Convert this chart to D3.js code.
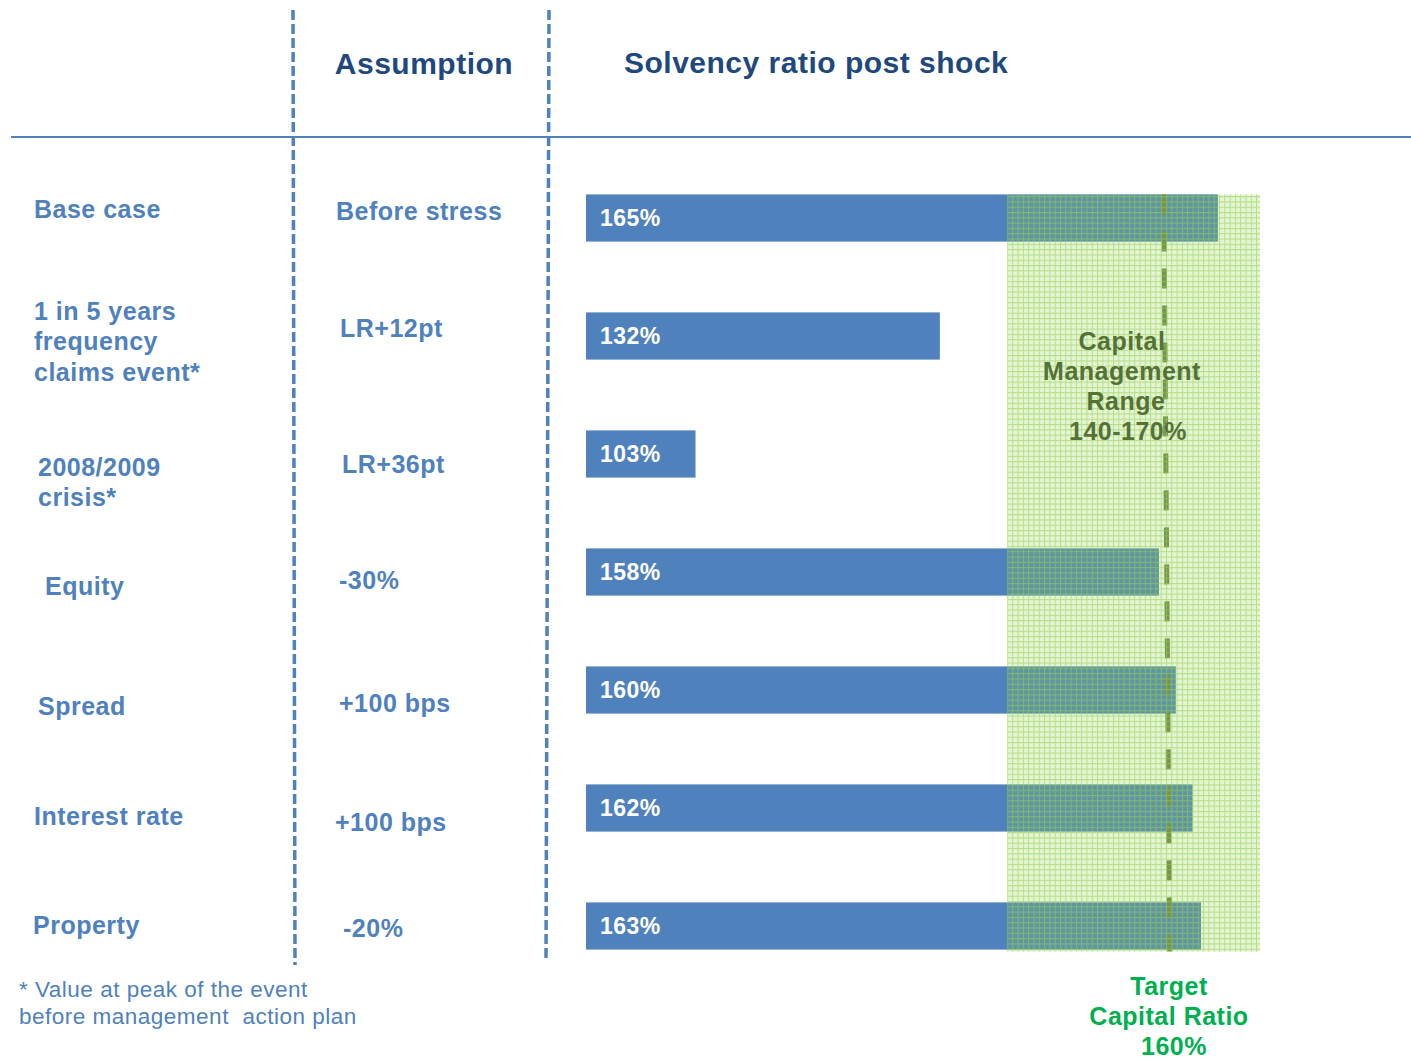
<!DOCTYPE html>
<html>
<head>
<meta charset="utf-8">
<script src="https://cdnjs.cloudflare.com/ajax/libs/d3/7.8.5/d3.min.js"></script>
<style>
  body { margin: 0; background: #ffffff; }
  text { font-family: "Liberation Sans", Arial, sans-serif; letter-spacing: 0.5px; }
</style>
</head>
<body>
<div id="chart"></div>
<script>
// Data
var scenarios = ["Base case", "1 in 5 years\nfrequency\nclaims event*", "2008/2009\ncrisis*", "Equity", "Spread", "Interest rate", "Property"];
var assumptions = ["Before stress", "LR+12pt", "LR+36pt", "-30%", "+100 bps", "+100 bps", "-20%"];
var ratios = [165, 132, 103, 158, 160, 162, 163];
var rangeLow = 140;
var rangeHigh = 170;
var targetRatio = 160;

// Page size
var svgWidth = 1411;
var svgHeight = 1059;

var svg = d3.select("#chart")
    .append("svg")
    .attr("width", svgWidth)
    .attr("height", svgHeight);

var blue = "#4f81bd";
var darkBlue = "#1f497d";

// Scales
var xScale = d3.scaleLinear()
    .domain([90, 170])
    .range([586, 1260]);

var yScale = d3.scaleBand()
    .domain(d3.range(ratios.length))
    .range([159, 985])
    .paddingInner(0.6)
    .paddingOuter(0.3);

// Pattern for the management range (green grid)
var defs = svg.append("defs");
var pat = defs.append("pattern")
    .attr("id", "grid")
    .attr("width", 5.3)
    .attr("height", 5.3)
    .attr("patternUnits", "userSpaceOnUse");
pat.append("rect")
    .attr("width", 5.3).attr("height", 5.3)
    .attr("fill", "#92d050").attr("fill-opacity", 0.24);
pat.append("path")
    .attr("d", "M0,0.5H5.3M0.5,0V5.3")
    .attr("stroke", "#92d050")
    .attr("stroke-opacity", 0.6)
    .attr("stroke-width", 1);

// Header line
svg.append("line")
    .attr("x1", 11).attr("x2", 1411)
    .attr("y1", 137).attr("y2", 137)
    .attr("stroke", blue).attr("stroke-width", 2);

// Column separators
[[293, 295, 965], [549, 546, 962]].forEach(function(c) {
    svg.append("line")
        .attr("x1", c[0]).attr("x2", c[1])
        .attr("y1", 10).attr("y2", c[2])
        .attr("stroke", blue)
        .attr("stroke-width", 3.5)
        .attr("stroke-dasharray", "10,4");
});

// Headers
svg.append("text")
    .attr("x", 424).attr("y", 74)
    .attr("text-anchor", "middle")
    .attr("font-size", 30).attr("font-weight", "bold")
    .attr("fill", darkBlue)
    .text("Assumption");

svg.append("text")
    .attr("x", 624).attr("y", 73)
    .attr("font-size", 30).attr("font-weight", "bold")
    .attr("fill", darkBlue)
    .text("Solvency ratio post shock");

// Bars
svg.append("g").selectAll("rect")
    .data(ratios)
    .enter()
    .append("rect")
    .attr("x", xScale(90))
    .attr("y", (d, i) => yScale(i))
    .attr("width", d => xScale(d) - xScale(90))
    .attr("height", yScale.bandwidth())
    .attr("fill", blue);

// Bar labels
svg.append("g").selectAll("text")
    .data(ratios)
    .enter()
    .append("text")
    .attr("x", xScale(90) + 14)
    .attr("y", (d, i) => yScale(i) + yScale.bandwidth() / 2 + 8)
    .attr("font-size", 23).attr("font-weight", "bold")
    .attr("fill", "#ffffff")
    .text(d => d + "%");

// Target line (under the range overlay)
var yTop = yScale(0);
var yBottom = yScale(ratios.length - 1) + yScale.bandwidth();
svg.append("line")
    .attr("x1", xScale(targetRatio) - 12).attr("x2", xScale(targetRatio) - 6)
    .attr("y1", yTop).attr("y2", yBottom + 2)
    .attr("stroke", "#6f7f4c")
    .attr("stroke-width", 5)
    .attr("stroke-dasharray", "20,17");

// Management range overlay
svg.append("rect")
    .attr("x", xScale(rangeLow))
    .attr("y", yTop)
    .attr("width", xScale(rangeHigh) - xScale(rangeLow))
    .attr("height", yBottom - yTop + 2)
    .attr("fill", "url(#grid)");

// Range label
var rangeLines = ["Capital", "Management", "Range", rangeLow + "-" + rangeHigh + "%"];
var rangeShift = [0, 0, 4, 6];
svg.append("g").selectAll("text")
    .data(rangeLines)
    .enter()
    .append("text")
    .attr("x", (d, i) => 1122 + rangeShift[i])
    .attr("y", (d, i) => 350 + i * 30)
    .attr("text-anchor", "middle")
    .attr("font-size", 25).attr("font-weight", "bold")
    .attr("fill", "#557236")
    .text(d => d);

// Target label
var targetLines = ["Target", "Capital Ratio", targetRatio + "%"];
svg.append("g").selectAll("text")
    .data(targetLines)
    .enter()
    .append("text")
    .attr("x", (d, i) => i == 2 ? 1174 : 1169)
    .attr("y", (d, i) => 995 + i * 30)
    .attr("text-anchor", "middle")
    .attr("font-size", 25).attr("font-weight", "bold")
    .attr("fill", "#00b050")
    .text(d => d);

// Row labels (small per-row nudges to follow the slide layout)
var rowNudge = [[34, -9], [34, 5], [38, 28], [45, 14], [38, 16], [34, 8], [33, -1]];
var assumNudge = [[336, -7], [340, -8], [342, 10], [339, 8], [339, 13], [335, 14], [343, 2]];

scenarios.forEach(function(s, i) {
    var lines = s.split("\n");
    var cy = yScale(i) + yScale.bandwidth() / 2 + rowNudge[i][1];
    var t = svg.append("text")
        .attr("font-size", 25).attr("font-weight", "bold")
        .attr("fill", blue);
    lines.forEach(function(l, j) {
        t.append("tspan")
            .attr("x", rowNudge[i][0])
            .attr("y", cy + 9 + (j - (lines.length - 1) / 2) * 30.5)
            .text(l);
    });
});

svg.append("g").selectAll("text")
    .data(assumptions)
    .enter()
    .append("text")
    .attr("x", (d, i) => assumNudge[i][0])
    .attr("y", (d, i) => yScale(i) + yScale.bandwidth() / 2 + assumNudge[i][1] + 9)
    .attr("font-size", 25).attr("font-weight", "bold")
    .attr("fill", blue)
    .text(d => d);

// Footnote
var notes = ["* Value at peak of the event", "before management  action plan"];
svg.append("g").selectAll("text")
    .data(notes)
    .enter()
    .append("text")
    .attr("x", 19)
    .attr("y", (d, i) => 997 + i * 27)
    .attr("font-size", 22.5)
    .attr("fill", blue)
    .style("white-space", "pre")
    .text(d => d);
</script>
</body>
</html>
